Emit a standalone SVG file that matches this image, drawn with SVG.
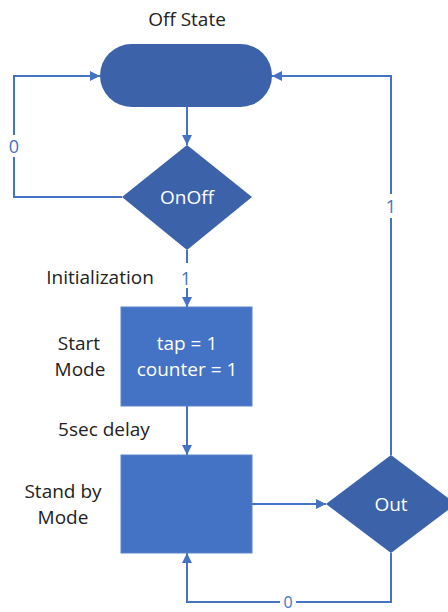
<svg xmlns="http://www.w3.org/2000/svg" width="448" height="612" viewBox="0 0 448 612">
<defs>
<style>
.lbl{font-family:"Open Sans","Noto Sans",sans-serif;font-size:19px;fill:#222;text-anchor:middle}
.in{font-family:"Open Sans","Noto Sans",sans-serif;font-size:19px;fill:#fff;text-anchor:middle}
.cl{font-family:"Open Sans","Noto Sans",sans-serif;font-size:18px;fill:#4472C4;text-anchor:middle}
.dk{fill:#3C62AA}
.bx{fill:#4472C4;stroke:#5A84CC;stroke-width:1}
.ln{fill:none;stroke:#4472C4;stroke-width:2}
</style>
<marker id="ah" viewBox="0 0 10 10" refX="10" refY="5" markerWidth="5" markerHeight="5" orient="auto" markerUnits="strokeWidth">
<path d="M0,0 L10,5 L0,10 z" fill="#4472C4"/>
</marker>
</defs>
<rect width="448" height="612" fill="#fff"/>
<g id="connectors">
<path class="ln" d="M187,107 V145" marker-end="url(#ah)"/>
<path class="ln" d="M122,197 H14 V76 H100" marker-end="url(#ah)"/>
<path class="ln" d="M391,455 V76 H272" marker-end="url(#ah)"/>
<path class="ln" d="M187,250 V263"/>
<path class="ln" d="M187,288 V307" marker-end="url(#ah)"/>
<path class="ln" d="M187,406 V455" marker-end="url(#ah)"/>
<path class="ln" d="M252,504 H326" marker-end="url(#ah)"/>
<path class="ln" d="M391,553 V602 H187 V553" marker-end="url(#ah)"/>
<rect x="5" y="135" width="18" height="22" fill="#fff"/>
<text class="cl" x="14" y="153">0</text>
<rect x="382" y="194" width="18" height="24" fill="#fff"/>
<text class="cl" x="391" y="213">1</text>
<text class="cl" x="186" y="285">1</text>
<rect x="280" y="594" width="16" height="18" fill="#fff"/>
<text class="cl" x="288" y="608" style="font-size:16px">0</text>
</g>
<g id="off-state">
<rect class="dk" x="100" y="44" width="172" height="63" rx="31.5"/>
<text class="lbl" x="187" y="26">Off State</text>
</g>
<g id="onoff">
<polygon class="dk" points="187,145 252,197 187,250 122,197"/>
<text class="in" x="187" y="204">OnOff</text>
</g>
<g id="start-mode">
<rect class="bx" x="121" y="307" width="131" height="99"/>
<text class="in" x="187" y="350">tap = 1</text>
<text class="in" x="187" y="376">counter = 1</text>
<text class="lbl" x="100" y="284">Initialization</text>
<text class="lbl" x="79" y="350">Start</text>
<text class="lbl" x="80" y="376">Mode</text>
</g>
<g id="standby-mode">
<rect class="bx" x="121" y="455" width="131" height="98"/>
<text class="lbl" x="104" y="436">5sec delay</text>
<text class="lbl" x="63" y="498">Stand by</text>
<text class="lbl" x="63" y="524">Mode</text>
</g>
<g id="out">
<polygon class="dk" points="391,455 456,504 391,553 326,504"/>
<text class="in" x="391" y="511">Out</text>
</g>
</svg>
